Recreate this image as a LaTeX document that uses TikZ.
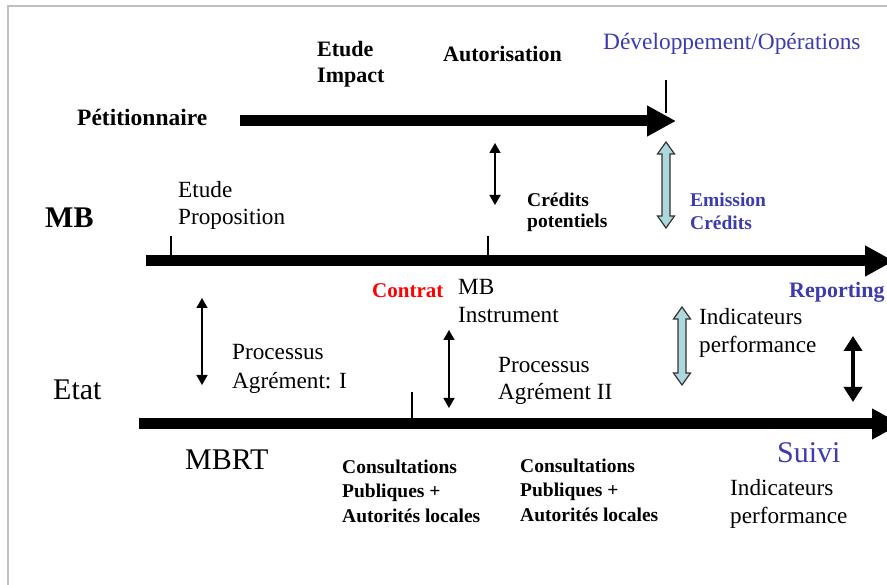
\documentclass[tikz,border=0pt]{standalone}
\usepackage{fontspec}
\setmainfont{Liberation Serif}
\usetikzlibrary{arrows.meta}
\definecolor{bluetxt}{RGB}{60,60,175}
\definecolor{fatfill}{RGB}{172,216,222}
\definecolor{framegray}{RGB}{192,192,192}
\tikzset{
  lbl/.style={anchor=base west, inner sep=0pt, align=left},
  timeline/.style={line width=11pt, -{Triangle[length=29pt,width=29pt]}},
  tick/.style={line width=1.2pt},
  thinarr/.style={line width=1.6pt, {Triangle[length=10pt,width=11pt]}-{Triangle[length=10pt,width=11pt]}},
  thickarr/.style={line width=4pt, {Triangle[length=15pt,width=18pt]}-{Triangle[length=15pt,width=18pt]}},
  fatarr/.style={fill=fatfill, draw=black!80, line width=1.2pt, line join=miter},
}
\newcommand{\fatdarrow}[3]{%
  \filldraw[fatarr] (#1,#2) -- ++(8.5,12) -- ++(-4.5,0) |- (#1+4,#3-12) -- ++(4.5,0)
    -- (#1,#3) -- ++(-8.5,-12) -- ++(4.5,0) -- (#1-4,#2+12) -- ++(-4.5,0) -- cycle;}
\begin{document}
\begin{tikzpicture}[x=1pt,y=-1pt]
\useasboundingbox (0,0) rectangle (887,585);
\fill[white] (0,0) rectangle (887,585);
% frame
\draw[framegray, line width=2pt] (8,590) -- (8,6) -- (892,6);

% timelines
\coordinate (p0) at (240,121); \coordinate (p1) at (676,121);
\coordinate (m0) at (146,261); \coordinate (m1) at (894,261);
\coordinate (e0) at (139,424); \coordinate (e1) at (901,424);
\draw[timeline] (p0) -- (p1);
\draw[timeline] (m0) -- (m1);
\draw[timeline] (e0) -- (e1);

% ticks
\coordinate (t1a) at (666,80);  \coordinate (t1b) at (666,113);
\coordinate (t2a) at (171,236); \coordinate (t2b) at (171,256);
\coordinate (t3a) at (488,236); \coordinate (t3b) at (488,256);
\coordinate (t4a) at (412,392); \coordinate (t4b) at (412,419);
\draw[tick] (t1a) -- (t1b);
\draw[tick] (t2a) -- (t2b);
\draw[tick] (t3a) -- (t3b);
\draw[tick] (t4a) -- (t4b);

% vertical double arrows
\coordinate (a1a) at (495,143); \coordinate (a1b) at (495,205);
\coordinate (a2a) at (202,298); \coordinate (a2b) at (202,385);
\coordinate (a3a) at (449,330); \coordinate (a3b) at (449,408);
\coordinate (a4a) at (853,336); \coordinate (a4b) at (853,402);
\draw[thinarr] (a1a) -- (a1b);
\draw[thinarr] (a2a) -- (a2b);
\draw[thinarr] (a3a) -- (a3b);
\draw[thickarr] (a4a) -- (a4b);
\fatdarrow{666}{142}{228}
\fatdarrow{682}{307}{385}

% labels (multi-line nodes are placed by the baseline of their last line)
\node[lbl, font=\bfseries\fontsize{23.5}{26}\selectfont] (pet) at (77,126) {Pétitionnaire};
\node[lbl, font=\bfseries\fontsize{22}{26}\selectfont] (etimp) at (317,83) {Etude\\Impact};
\node[lbl, font=\bfseries\fontsize{22}{26}\selectfont] (auto) at (443,62) {Autorisation};
\node[lbl, text=bluetxt, font=\fontsize{23.4}{26}\selectfont] (devop) at (603,50) {Développement/Opérations};

\node[lbl, font=\bfseries\fontsize{30}{34}\selectfont] (mb) at (45,228) {MB};
\node[lbl, font=\fontsize{23.2}{27}\selectfont] (etprop) at (178,225) {Etude\\Proposition};
\node[lbl, font=\bfseries\fontsize{19.5}{21}\selectfont] (credpot) at (527,228) {Crédits\\potentiels};
\node[lbl, text=bluetxt, font=\bfseries\fontsize{19.5}{23}\selectfont] (emis) at (690,230) {Emission\\Crédits};

\node[lbl, text=red, font=\bfseries\fontsize{21}{25}\selectfont] (contrat) at (372,298) {Contrat};
\node[lbl, font=\fontsize{23.2}{28}\selectfont] (mbinst) at (458,323) {MB\\Instrument};
\node[lbl, text=bluetxt, font=\bfseries\fontsize{22}{26}\selectfont] (report) at (789,298) {Reporting};
\node[lbl, font=\fontsize{23.2}{29}\selectfont] (proc1) at (232,389) {Processus\\Agrément: I};
\node[lbl, font=\fontsize{30}{34}\selectfont] (etat) at (53,400) {Etat};
\node[lbl, font=\fontsize{23.2}{27}\selectfont] (proc2) at (498,400) {Processus\\Agrément II};
\node[lbl, font=\fontsize{23.2}{28}\selectfont] (ind1) at (699,353) {Indicateurs\\performance};

\node[lbl, font=\fontsize{30}{34}\selectfont] (mbrt) at (185,470) {MBRT};
\node[lbl, font=\bfseries\fontsize{19.5}{24.5}\selectfont] (cons1) at (342,522) {Consultations\\Publiques +\\Autorités locales};
\node[lbl, font=\bfseries\fontsize{19.5}{24.5}\selectfont] (cons2) at (520,521) {Consultations\\Publiques +\\Autorités locales};
\node[lbl, text=bluetxt, font=\fontsize{30}{34}\selectfont] (suivi) at (777,462) {Suivi};
\node[lbl, font=\fontsize{23.2}{28}\selectfont] (ind2) at (730,523) {Indicateurs\\performance};
\end{tikzpicture}
\end{document}
